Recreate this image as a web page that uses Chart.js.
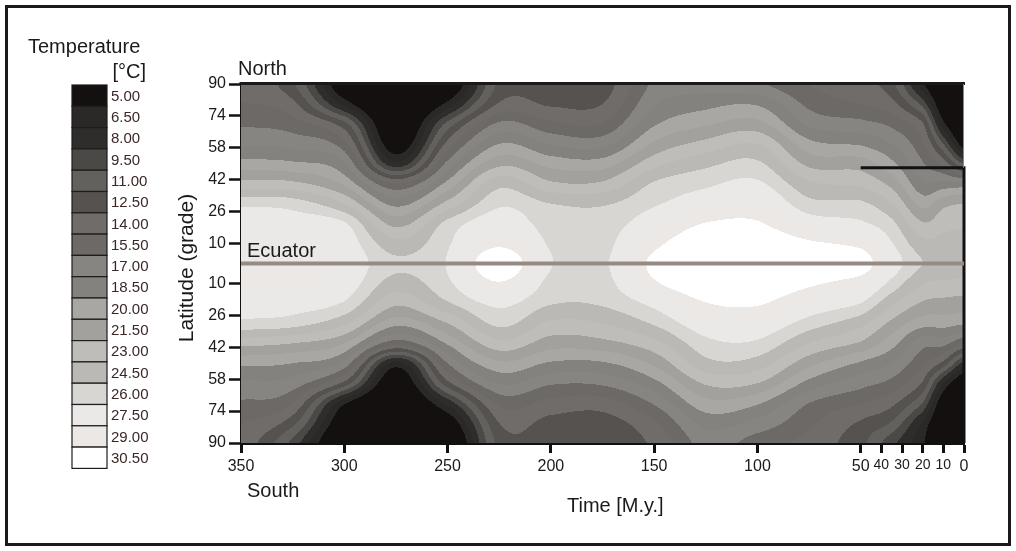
<!DOCTYPE html>
<html>
<head>
<meta charset="utf-8">
<script src="https://cdn.jsdelivr.net/npm/chart.js@4.4.1/dist/chart.umd.min.js"></script>
<style>
html,body{margin:0;padding:0;background:#ffffff;}
#wrap{width:1016px;height:551px;position:relative;}
canvas{display:block;}
</style>
</head>
<body>
<div id="wrap"><canvas id="c" width="1016" height="551"></canvas></div>
<script>
// ---------- DATA ----------
const levels = [5.00, 6.50, 8.00, 9.50, 11.00, 12.50, 14.00, 15.50, 17.00, 18.50, 20.00, 21.50, 23.00, 24.50, 26.00, 27.50, 29.00, 30.50];
const levelColors = ['#141010','#2b2927','#2f2d2b','#4b4946','#63615d','#55524f','#6f6c69','#6c6966','#878582','#84827f','#a9a7a4','#a3a19e','#bfbdb9','#bbb9b5','#d8d6d2','#ebe9e7','#ebe8e6','#ffffff'];

// time columns [M.y.] and latitude rows (north positive)
const times = [350, 325, 300, 275, 250, 225, 200, 175, 150, 125, 100, 75, 50, 35, 20, 10, 0];
const latitudes = [90, 80, 70, 60, 50, 40, 30, 20, 10, 0, -10, -20, -30, -40, -50, -60, -70, -80, -90];

// temperature [°C] per time column, from 90N down to 90S
const temp350 = [15.0, 15.6, 16.8, 18.3, 20.6, 23.6, 27.1, 28.7, 29.4, 29.7, 29.4, 28.6, 27.0, 23.5, 20.4, 18.2, 16.8, 15.6, 15.0];
const temp325 = [12.8, 14.4, 16.2, 18.0, 20.3, 23.4, 26.8, 28.4, 29.1, 29.4, 29.1, 28.3, 26.6, 23.0, 20.0, 17.8, 15.5, 13.0, 10.5];
const temp300 = [4.5, 7.5, 13.0, 16.0, 18.6, 21.2, 24.5, 27.7, 28.5, 28.8, 28.5, 27.3, 24.8, 21.5, 18.0, 13.5, 6.8, 4.5, 3.0];
const temp275 = [2.0, 2.5, 3.5, 5.0, 8.5, 15.5, 19.5, 22.5, 25.0, 26.3, 25.3, 23.3, 20.5, 16.0, 7.5, 4.5, 3.0, 2.0, 2.0];
const temp250 = [4.0, 7.0, 11.5, 14.5, 17.5, 20.5, 23.5, 26.5, 27.3, 27.6, 27.2, 25.8, 23.0, 20.2, 17.0, 13.5, 8.5, 4.8, 3.0];
const temp225 = [12.8, 14.2, 17.3, 20.0, 22.6, 25.5, 27.2, 28.6, 30.1, 32.2, 30.3, 27.9, 26.4, 24.0, 21.2, 18.6, 15.8, 14.0, 13.0];
const temp200 = [13.0, 13.8, 15.8, 18.4, 21.0, 23.3, 26.0, 26.8, 27.3, 27.6, 27.0, 26.1, 24.2, 22.2, 19.8, 17.2, 15.0, 13.5, 13.0];
const temp175 = [13.2, 14.0, 15.6, 18.0, 20.8, 23.3, 25.8, 26.7, 27.0, 27.2, 26.9, 26.2, 24.5, 22.5, 19.8, 17.3, 14.8, 13.3, 13.0];
const temp150 = [17.3, 18.3, 19.8, 21.8, 24.0, 26.2, 27.3, 28.6, 30.0, 31.0, 30.2, 28.0, 26.2, 24.0, 21.8, 19.5, 17.2, 15.2, 14.3];
const temp125 = [17.8, 19.5, 21.3, 23.5, 25.6, 27.2, 28.5, 30.6, 32.0, 32.5, 32.0, 30.4, 28.6, 27.0, 25.5, 23.2, 21.0, 19.0, 17.6];
const temp100 = [17.2, 19.8, 22.0, 24.5, 26.3, 27.8, 29.3, 30.7, 32.0, 32.5, 32.0, 30.7, 28.8, 27.2, 25.3, 23.0, 20.2, 18.0, 16.3];
const temp75  = [15.5, 16.6, 18.2, 20.5, 22.6, 24.8, 26.5, 28.5, 30.8, 31.5, 30.8, 28.8, 26.8, 24.5, 22.0, 19.5, 17.0, 15.8, 15.0];
const temp50  = [14.5, 15.5, 17.5, 19.8, 22.3, 24.2, 26.3, 27.8, 30.0, 31.5, 29.6, 27.5, 25.0, 22.8, 19.8, 17.6, 15.6, 13.8, 13.0];
const temp35  = [13.0, 14.5, 16.6, 18.5, 20.4, 22.5, 24.6, 26.4, 27.6, 28.5, 27.0, 24.8, 22.6, 20.6, 18.5, 16.5, 14.4, 12.3, 10.0];
const temp20  = [7.0, 10.5, 14.2, 15.8, 17.2, 18.8, 21.0, 23.2, 25.0, 26.0, 24.6, 22.8, 20.6, 17.6, 15.8, 13.8, 11.0, 7.8, 6.8];
const temp10  = [3.0, 4.5, 7.0, 11.0, 15.0, 19.0, 22.5, 24.0, 25.0, 25.8, 24.2, 22.5, 20.6, 17.5, 13.5, 8.0, 5.0, 4.0, 3.5];
const temp0   = [2.0, 2.5, 3.5, 5.5, 11.0, 19.0, 23.0, 24.3, 25.0, 25.5, 24.0, 22.3, 20.2, 15.5, 9.0, 4.5, 3.5, 2.5, 2.0];
const temperatureColumns = [temp350, temp325, temp300, temp275, temp250, temp225, temp200, temp175, temp150, temp125, temp100, temp75, temp50, temp35, temp20, temp10, temp0];

const xTickValues = [350, 300, 250, 200, 150, 100, 50, 40, 30, 20, 10, 0];
const xMinorTicks = [40, 30, 20, 10];
const yTickValues = [90, 74, 58, 42, 26, 10, -10, -26, -42, -58, -74, -90];

const equatorLine = [{x: 350, y: 0}, {x: 0, y: 0}];
const markerLine = [{x: 50, y: 48}, {x: 0, y: 48}, {x: 0, y: -90}];

// ---------- HELPERS ----------
const FONT = '"Liberation Sans", Arial, Helvetica, sans-serif';
function hexToRgb(h){ return [parseInt(h.substr(1,2),16), parseInt(h.substr(3,2),16), parseInt(h.substr(5,2),16)]; }
function cr(p0,p1,p2,p3,u){
  return 0.5*((2*p1) + (-p0+p2)*u + (2*p0-5*p1+4*p2-p3)*u*u + (-p0+3*p1-3*p2+p3)*u*u*u);
}
function segment(arr, v){ // arr descending
  const n = arr.length;
  if (v >= arr[0]) return [0, 0];
  if (v <= arr[n-1]) return [n-2, 1];
  for (let i = 0; i < n-1; i++){
    if (v <= arr[i] && v >= arr[i+1]) return [i, (arr[i]-v)/(arr[i]-arr[i+1])];
  }
  return [n-2, 1];
}
function colorIndex(T){
  let k = 0;
  for (let i = 0; i < levels.length; i++) if (T >= levels[i]) k = i;
  return k;
}

const heatmapPlugin = {
  id: 'heatmap',
  beforeDatasetsDraw(chart){
    const {ctx, chartArea: a, scales} = chart;
    const xs = scales.x, ys = scales.y;
    const L = Math.round(a.left), T0 = Math.round(a.top);
    const w = Math.round(a.right) - L, h = Math.round(a.bottom) - T0;
    const off = document.createElement('canvas'); off.width = w; off.height = h;
    const octx = off.getContext('2d');
    const img = octx.createImageData(w, h);
    const rgb = levelColors.map(hexToRgb);
    const nT = times.length, nL = latitudes.length;
    const prof = new Array(w);
    for (let px = 0; px < w; px++){
      const t = xs.getValueForPixel(L + px + 0.5);
      const [i, u] = segment(times, t);
      const c0 = temperatureColumns[Math.max(i-1,0)], c1 = temperatureColumns[i], c2 = temperatureColumns[i+1], c3 = temperatureColumns[Math.min(i+2,nT-1)];
      const p = new Float64Array(nL);
      for (let j = 0; j < nL; j++) p[j] = cr(c0[j], c1[j], c2[j], c3[j], u);
      prof[px] = p;
    }
    for (let py = 0; py < h; py++){
      const lat = ys.getValueForPixel(T0 + py + 0.5);
      const [j, v] = segment(latitudes, lat);
      const j0 = Math.max(j-1,0), j3 = Math.min(j+2,nL-1);
      for (let px = 0; px < w; px++){
        const p = prof[px];
        const Tv = cr(p[j0], p[j], p[j+1], p[j3], v);
        const c = rgb[colorIndex(Tv)];
        const o = (py*w + px)*4;
        img.data[o] = c[0]; img.data[o+1] = c[1]; img.data[o+2] = c[2]; img.data[o+3] = 255;
      }
    }
    octx.putImageData(img, 0, 0);
    ctx.save();
    ctx.drawImage(off, L, T0);
    ctx.restore();
  },
  afterDatasetsDraw(chart){
    const {ctx, chartArea: a, scales} = chart;
    ctx.save();
    ctx.strokeStyle = '#1a1a1a'; ctx.lineWidth = 3;
    ctx.beginPath(); ctx.moveTo(a.left - 1.5, a.top - 0.5); ctx.lineTo(a.right + 1, a.top - 0.5); ctx.stroke();
    const yMark = scales.y.getPixelForValue(markerLine[0].y);
    ctx.strokeStyle = '#8a8886'; ctx.lineWidth = 1;
    ctx.beginPath(); ctx.moveTo(a.right - 0.5, a.top); ctx.lineTo(a.right - 0.5, yMark); ctx.stroke();
    ctx.restore();
  },
  afterDraw(chart){
    const {ctx} = chart;
    ctx.save();
    ctx.strokeStyle = '#1a1a1a'; ctx.lineWidth = 3;
    ctx.strokeRect(6.5, 6.5, 1003, 538);
    ctx.fillStyle = '#1a1a1a';
    ctx.textBaseline = 'alphabetic';
    ctx.font = '20px ' + FONT;
    ctx.textAlign = 'left';
    ctx.fillText('Temperature', 28, 53);
    ctx.textAlign = 'right';
    ctx.fillText('[\u00B0C]', 146, 78);
    const bx = 72, bw = 35, by = 85, bh = 21.3;
    for (let i = 0; i < levels.length; i++){
      const y0 = by + i*bh;
      ctx.fillStyle = levelColors[i];
      ctx.fillRect(bx, y0, bw, bh);
      ctx.strokeStyle = '#1e1c1c'; ctx.lineWidth = 1.2;
      ctx.strokeRect(bx, y0, bw, bh);
      ctx.fillStyle = '#3b2727';
      ctx.font = '15px ' + FONT;
      ctx.textAlign = 'left'; ctx.textBaseline = 'middle';
      ctx.fillText(levels[i].toFixed(2), 111, y0 + bh/2 + 1);
    }
    ctx.fillStyle = '#1a1a1a';
    ctx.textBaseline = 'alphabetic'; ctx.textAlign = 'left';
    ctx.font = '20px ' + FONT;
    ctx.fillText('North', 238, 75);
    ctx.fillText('South', 247, 497);
    ctx.fillText('Ecuator', 247, 257);
    ctx.fillText('Time [M.y.]', 567, 512);
    ctx.save();
    ctx.translate(193, 268);
    ctx.rotate(-Math.PI/2);
    ctx.textAlign = 'center';
    ctx.font = '21px ' + FONT;
    ctx.fillText('Latitude (grade)', 0, 0);
    ctx.restore();
    ctx.restore();
  }
};

new Chart(document.getElementById('c'), {
  type: 'scatter',
  data: {
    datasets: [
      { data: equatorLine, showLine: true, borderColor: '#978a84', borderWidth: 4, pointRadius: 0, clip: 4 },
      { data: markerLine, showLine: true, borderColor: '#111111', borderWidth: 3, pointRadius: 0, clip: 4, borderJoinStyle: 'miter' }
    ]
  },
  options: {
    responsive: false,
    animation: false,
    devicePixelRatio: 1,
    layout: { padding: { left: 181, right: 52, top: 84, bottom: 68 } },
    plugins: { legend: { display: false }, tooltip: { enabled: false } },
    scales: {
      x: {
        type: 'linear', min: 0, max: 350, reverse: true, position: 'bottom',
        afterBuildTicks: s => { s.ticks = xTickValues.map(v => ({ value: v })); },
        afterFit: s => { s.height = 40; },
        border: { display: true, width: 3, color: '#111111' },
        grid: { display: true, drawOnChartArea: false, drawTicks: true, tickLength: 10, tickWidth: 3, tickColor: '#111111' },
        ticks: {
          autoSkip: false, maxRotation: 0, minRotation: 0, padding: 4, color: '#1a1a1a',
          font: ctx => ({ family: FONT, size: (ctx.tick && xMinorTicks.includes(ctx.tick.value)) ? 14 : 16 }),
          callback: v => String(v)
        }
      },
      y: {
        type: 'linear', min: -90, max: 90,
        afterBuildTicks: s => { s.ticks = yTickValues.map(v => ({ value: v })); },
        afterFit: s => { s.width = 60; },
        border: { display: true, width: 3, color: '#111111' },
        grid: { display: true, drawOnChartArea: false, drawTicks: true, tickLength: 12, tickWidth: 2.5, tickColor: '#111111' },
        ticks: {
          autoSkip: false, padding: 3, color: '#1a1a1a',
          font: { family: FONT, size: 16 },
          callback: v => String(Math.abs(v))
        }
      }
    }
  },
  plugins: [heatmapPlugin]
});
</script>
</body>
</html>
